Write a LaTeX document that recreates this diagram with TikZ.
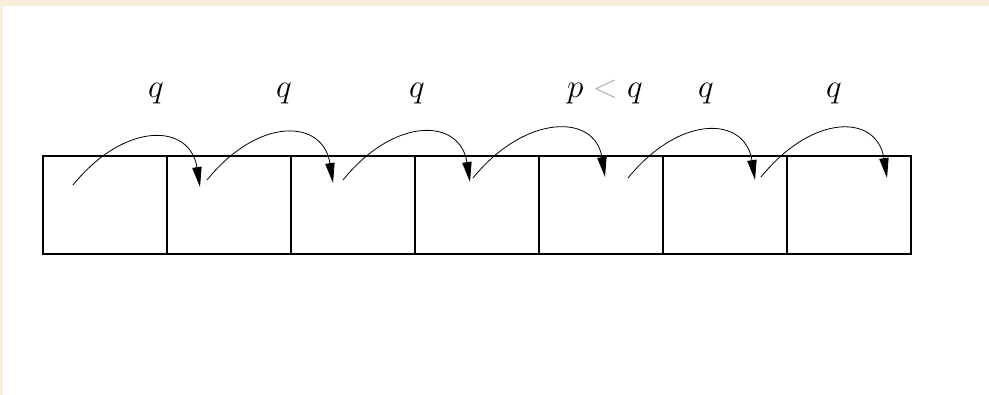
\documentclass[tikz,border=0pt]{standalone}
\usetikzlibrary{arrows.meta}
\definecolor{paper}{RGB}{248,236,218}
\begin{document}
\begin{tikzpicture}[x=0.75pt, y=-0.75pt,
        cell/.style={draw, line width=1.1pt, minimum width=93pt, minimum height=73.5pt, inner sep=0pt, outer sep=0pt},
        hop/.style={line width=0.6pt, -{Triangle[length=15pt, width=7pt]}},
        lbl/.style={anchor=base, inner sep=0pt, font=\fontsize{31}{33}\selectfont}]
        % --- page frame ---
        \useasboundingbox (0,0) rectangle (989,395);
        \fill[paper] (0,0) rectangle (989,6);
        \fill[paper] (0,0) rectangle (3,395);

        % --- row of seven cells ---
        \node[cell] (c1) at (105,205) {};
        \node[cell] (c2) at (229,205) {};
        \node[cell] (c3) at (353,205) {};
        \node[cell] (c4) at (477,205) {};
        \node[cell] (c5) at (601,205) {};
        \node[cell] (c6) at (725,205) {};
        \node[cell] (c7) at (849,205) {};

        % --- start and end points of the hops ---
        \coordinate (s1) at (73,185);  \coordinate (t1) at (200,187);
        \coordinate (s2) at (207,180); \coordinate (t2) at (333,183);
        \coordinate (s3) at (343,180); \coordinate (t3) at (470,182);
        \coordinate (s4) at (473,178); \coordinate (t4) at (605,177);
        \coordinate (s5) at (628,178); \coordinate (t5) at (755,180);
        \coordinate (s6) at (761,177); \coordinate (t6) at (887,178);

        % --- hops between the cells ---
        \draw[hop] (s1) .. controls +(52,-64) and +(-10,-64) .. (t1);
        \draw[hop] (s2) .. controls +(52,-64) and +(-10,-64) .. (t2);
        \draw[hop] (s3) .. controls +(52,-64) and +(-10,-64) .. (t3);
        \draw[hop] (s4) .. controls +(52,-64) and +(-10,-64) .. (t4);
        \draw[hop] (s5) .. controls +(52,-64) and +(-10,-64) .. (t5);
        \draw[hop] (s6) .. controls +(52,-64) and +(-10,-64) .. (t6);

        % --- hop lengths ---
        \node[lbl] (q1) at (156,98) {$q$};
        \node[lbl] (q2) at (284,98) {$q$};
        \node[lbl] (q3) at (417,98) {$q$};
        \node[lbl] (pq) at (605,98) {$p\mathrel{\color{gray!60}<}q$};
        \node[lbl] (q5) at (706,98) {$q$};
        \node[lbl] (q6) at (834,98) {$q$};
\end{tikzpicture}
\end{document}
